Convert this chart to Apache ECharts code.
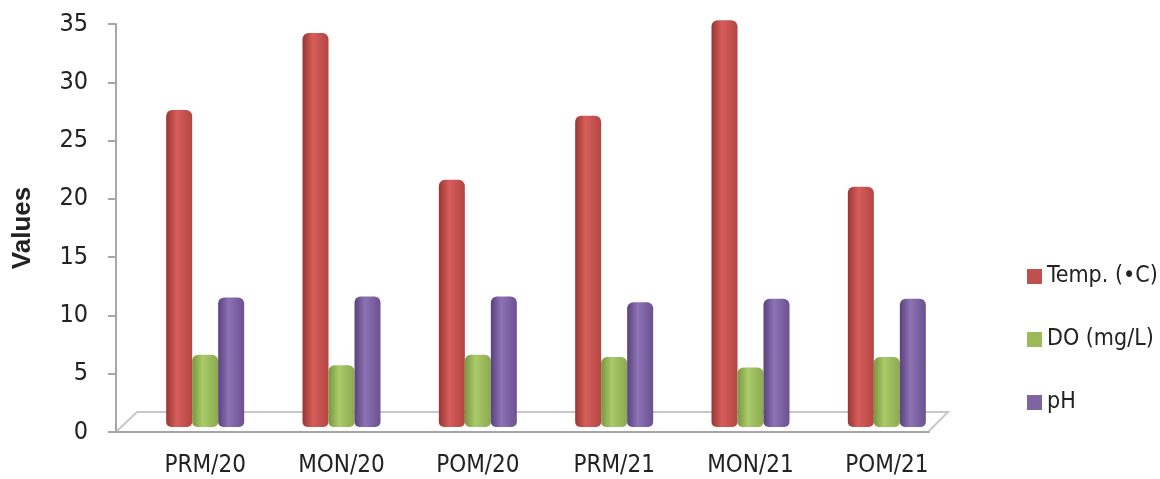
<!DOCTYPE html>
<html>
<head>
<meta charset="utf-8">
<script src="https://cdn.jsdelivr.net/npm/echarts@6/dist/echarts.min.js"></script>
<style>
  html, body { margin: 0; padding: 0; background: #fff; }
  #chart { width: 1160px; height: 479px; }
</style>
</head>
<body>
<div id="chart"></div>
<script>
// categories and values
const categories = ['PRM/20', 'MON/20', 'POM/20', 'PRM/21', 'MON/21', 'POM/21']
const yTicks = [0, 5, 10, 15, 20, 25, 30, 35]
const temp = [27.2, 33.8, 21.2, 26.7, 34.9, 20.6]
const dOxy = [6.2, 5.3, 6.2, 6.0, 5.1, 6.0]
const pH = [11.1, 11.2, 11.2, 10.7, 11.0, 11.0]

// the picture's text is tall and narrow, so a condensed face fits it best
const narrow = "'Liberation Sans Narrow', 'DejaVu Sans Condensed', sans-serif"
const wide = "'Liberation Sans', sans-serif"

// cylinder-ish shading
function shade(dark, light, mid) {
  return new echarts.graphic.LinearGradient(0, 0, 1, 0, [
    { offset: 0, color: dark },
    { offset: 0.4, color: light },
    { offset: 1, color: mid }
  ])
}

const chart = echarts.init(document.getElementById('chart'))

const option = {
  animation: false,
  textStyle: { fontFamily: narrow },
  legend: {
    orient: 'vertical',
    left: 1022,
    top: 260,
    itemWidth: 15,
    itemHeight: 15,
    itemGap: 40,
    itemTextGap: 7,
    icon: 'rect',
    textStyle: { fontSize: 23, color: '#222', fontFamily: narrow },
    data: [
      { name: 'Temp. (•C)', itemStyle: { color: '#C0504D' } },
      { name: 'DO (mg/L)', itemStyle: { color: '#9BBB59' } },
      { name: 'pH', itemStyle: { color: '#8064A2' } }
    ]
  },
  grid: [
    // axes / floor
    { left: 116, top: 24, width: 813, height: 408 },
    // bars (shifted by the 3D depth)
    { left: 137, top: 19, width: 818, height: 408 }
  ],
  xAxis: [
    {
      type: 'category',
      gridIndex: 0,
      data: categories,
      axisLine: { lineStyle: { color: '#A6A6A6', width: 2 } },
      axisTick: { length: 8, lineStyle: { color: '#A6A6A6', width: 2 } },
      axisLabel: { show: false }
    },
    {
      type: 'category',
      gridIndex: 1,
      data: categories,
      axisLine: { show: false },
      axisTick: { show: false },
      axisLabel: { margin: 27, fontSize: 24, color: '#222', fontFamily: narrow }
    }
  ],
  yAxis: [
    {
      type: 'value',
      gridIndex: 0,
      min: 0,
      max: 35,
      interval: 5,
      name: 'Values',
      nameLocation: 'middle',
      nameGap: 80,
      nameTextStyle: { fontSize: 26, fontWeight: 'bold', color: '#222', fontFamily: wide },
      axisLine: { show: true, lineStyle: { color: '#A6A6A6', width: 2 } },
      axisTick: { show: true, length: 8, lineStyle: { color: '#A6A6A6', width: 2 } },
      axisLabel: {
        margin: 28,
        fontSize: 25,
        color: '#222',
        fontFamily: narrow,
        formatter: v => (yTicks.includes(v) ? String(v) : '')
      },
      splitLine: { show: false }
    },
    {
      type: 'value',
      gridIndex: 1,
      min: 0,
      max: 35,
      show: false,
      splitLine: { show: false }
    }
  ],
  graphic: [
    {
      // floor outline of the 3D plot
      type: 'polyline',
      silent: true,
      shape: { points: [[117, 431], [137, 412], [948, 412], [929, 431]] },
      style: { stroke: '#C8C8C8', lineWidth: 2, fill: null }
    }
  ],
  series: [
    {
      name: 'Temp. (•C)',
      type: 'bar',
      xAxisIndex: 1,
      yAxisIndex: 1,
      barWidth: 26,
      barGap: '0%',
      data: temp,
      itemStyle: { color: shade('#9A3634', '#D65E5B', '#B34542'), borderRadius: [6, 6, 5, 5] }
    },
    {
      name: 'DO (mg/L)',
      type: 'bar',
      xAxisIndex: 1,
      yAxisIndex: 1,
      barWidth: 26,
      barGap: '0%',
      data: dOxy,
      itemStyle: { color: shade('#789640', '#AACB68', '#8BAA50'), borderRadius: [6, 6, 5, 5] }
    },
    {
      name: 'pH',
      type: 'bar',
      xAxisIndex: 1,
      yAxisIndex: 1,
      barWidth: 26,
      barGap: '0%',
      data: pH,
      itemStyle: { color: shade('#5A427C', '#8D72B4', '#6B5192'), borderRadius: [6, 6, 5, 5] }
    }
  ]
}

chart.setOption(option)
</script>
</body>
</html>
